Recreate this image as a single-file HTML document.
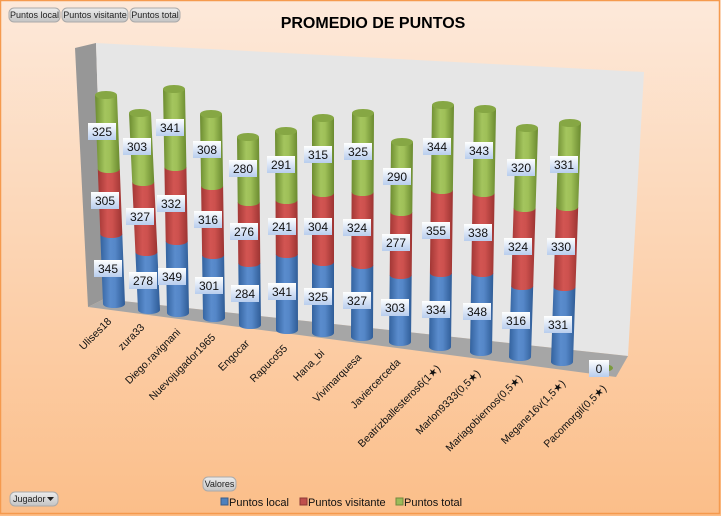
<!DOCTYPE html>
<html><head><meta charset="utf-8"><style>
html,body{margin:0;padding:0;}
body{width:721px;height:516px;overflow:hidden;font-family:"Liberation Sans",sans-serif;}
</style></head><body>
<svg width="721" height="516" viewBox="0 0 721 516" xmlns="http://www.w3.org/2000/svg" font-family="Liberation Sans, sans-serif">
<defs>
<linearGradient id="bg" x1="0" y1="0" x2="0" y2="1"><stop offset="0" stop-color="#fde9da"/><stop offset="1" stop-color="#fbbe89"/></linearGradient>
<linearGradient id="gG" x1="0" y1="0" x2="1" y2="0"><stop offset="0" stop-color="#6c8c30"/><stop offset="0.4" stop-color="#a4c55e"/><stop offset="0.6" stop-color="#9fc058"/><stop offset="1" stop-color="#6a8a2f"/></linearGradient>
<linearGradient id="gR" x1="0" y1="0" x2="1" y2="0"><stop offset="0" stop-color="#a23735"/><stop offset="0.4" stop-color="#d25552"/><stop offset="0.6" stop-color="#cd514e"/><stop offset="1" stop-color="#9c3432"/></linearGradient>
<linearGradient id="gB" x1="0" y1="0" x2="1" y2="0"><stop offset="0" stop-color="#33629e"/><stop offset="0.4" stop-color="#5a8ccd"/><stop offset="0.6" stop-color="#5587c8"/><stop offset="1" stop-color="#2f5c96"/></linearGradient>
<linearGradient id="lb" x1="0" y1="0" x2="0" y2="1"><stop offset="0" stop-color="#ffffff"/><stop offset="1" stop-color="#b8cdee"/></linearGradient>
<linearGradient id="btn" x1="0" y1="0" x2="0" y2="1"><stop offset="0" stop-color="#ececec"/><stop offset="1" stop-color="#c4c4c4"/></linearGradient>
</defs>
<rect x="0" y="0" width="721" height="516" fill="url(#bg)"/>
<rect x="0.5" y="0.5" width="719" height="513" fill="none" stroke="#f59a4e" stroke-width="1.5"/>
<text x="373" y="28" font-size="16" font-weight="bold" text-anchor="middle" fill="#000">PROMEDIO DE PUNTOS</text>
<g font-size="9" fill="#222">
<rect x="9" y="8" width="51" height="14" rx="5" fill="url(#btn)" stroke="#aaa"/><text x="34.5" y="18" text-anchor="middle">Puntos local</text>
<rect x="62" y="8" width="66" height="14" rx="5" fill="url(#btn)" stroke="#aaa"/><text x="95" y="18" text-anchor="middle">Puntos visitante</text>
<rect x="130" y="8" width="50" height="14" rx="5" fill="url(#btn)" stroke="#aaa"/><text x="155" y="18" text-anchor="middle">Puntos total</text>
<rect x="203" y="477" width="33" height="14" rx="5" fill="url(#btn)" stroke="#aaa"/><text x="219.5" y="487" text-anchor="middle">Valores</text>
<rect x="10" y="492" width="48" height="14" rx="5" fill="url(#btn)" stroke="#aaa"/><text x="13" y="502">Jugador</text>
<path d="M47 497 L54 497 L50.5 501Z" fill="#222"/>
</g>
<polygon points="75,48 96,43 104,299 88,307" fill="#979797"/>
<polygon points="96,43 644,72 628,356 104,299" fill="#e6e6e6"/>
<polygon points="104,299 628,356 616,377 88,307" fill="#a6a6a6"/>
<g stroke="none">
<path d="M100.3 234 L103 304 A11 4 0 0 0 125 304 L122.3 234Z" fill="url(#gB)"/><path d="M97.8 169 L100.3 234 A11 4 0 0 0 122.3 234 L119.8 169Z" fill="url(#gR)"/><path d="M95 95 L97.8 169 A11 4 0 0 0 119.8 169 L117 95Z" fill="url(#gG)"/><ellipse cx="106" cy="95" rx="11" ry="4" fill="#86a744"/>
<path d="M135.4 252 L138 310 A11 4 0 0 0 160 310 L157.4 252Z" fill="url(#gB)"/><path d="M132.2 182 L135.4 252 A11 4 0 0 0 157.4 252 L154.2 182Z" fill="url(#gR)"/><path d="M129 113 L132.2 182 A11 4 0 0 0 154.2 182 L151 113Z" fill="url(#gG)"/><ellipse cx="140" cy="113" rx="11" ry="4" fill="#86a744"/>
<path d="M165.7 241 L167 313 A11 4 0 0 0 189 313 L187.7 241Z" fill="url(#gB)"/><path d="M164.4 167 L165.7 241 A11 4 0 0 0 187.7 241 L186.4 167Z" fill="url(#gR)"/><path d="M163 89 L164.4 167 A11 4 0 0 0 186.4 167 L185 89Z" fill="url(#gG)"/><ellipse cx="174" cy="89" rx="11" ry="4" fill="#86a744"/>
<path d="M202.1 255 L203 318 A11 4 0 0 0 225 318 L224.1 255Z" fill="url(#gB)"/><path d="M201.1 186 L202.1 255 A11 4 0 0 0 224.1 255 L223.1 186Z" fill="url(#gR)"/><path d="M200 114 L201.1 186 A11 4 0 0 0 223.1 186 L222 114Z" fill="url(#gG)"/><ellipse cx="211" cy="114" rx="11" ry="4" fill="#86a744"/>
<path d="M238.3 263 L239 325 A11 4 0 0 0 261 325 L260.3 263Z" fill="url(#gB)"/><path d="M237.7 202 L238.3 263 A11 4 0 0 0 260.3 263 L259.7 202Z" fill="url(#gR)"/><path d="M237 137 L237.7 202 A11 4 0 0 0 259.7 202 L259 137Z" fill="url(#gG)"/><ellipse cx="248" cy="137" rx="11" ry="4" fill="#86a744"/>
<path d="M275.8 254 L276 330 A11 4 0 0 0 298 330 L297.8 254Z" fill="url(#gB)"/><path d="M275.5 200 L275.8 254 A11 4 0 0 0 297.8 254 L297.5 200Z" fill="url(#gR)"/><path d="M275 131 L275.5 200 A11 4 0 0 0 297.5 200 L297 131Z" fill="url(#gG)"/><ellipse cx="286" cy="131" rx="11" ry="4" fill="#86a744"/>
<path d="M312 262 L312 333 A11 4 0 0 0 334 333 L334 262Z" fill="url(#gB)"/><path d="M312 193 L312 262 A11 4 0 0 0 334 262 L334 193Z" fill="url(#gR)"/><path d="M312 118 L312 193 A11 4 0 0 0 334 193 L334 118Z" fill="url(#gG)"/><ellipse cx="323" cy="118" rx="11" ry="4" fill="#86a744"/>
<path d="M351.3 265 L351 337 A11 4 0 0 0 373 337 L373.3 265Z" fill="url(#gB)"/><path d="M351.6 192 L351.3 265 A11 4 0 0 0 373.3 265 L373.6 192Z" fill="url(#gR)"/><path d="M352 113 L351.6 192 A11 4 0 0 0 373.6 192 L374 113Z" fill="url(#gG)"/><ellipse cx="363" cy="113" rx="11" ry="4" fill="#86a744"/>
<path d="M389.7 275 L389 342 A11 4 0 0 0 411 342 L411.7 275Z" fill="url(#gB)"/><path d="M390.3 212 L389.7 275 A11 4 0 0 0 411.7 275 L412.3 212Z" fill="url(#gR)"/><path d="M391 142 L390.3 212 A11 4 0 0 0 412.3 212 L413 142Z" fill="url(#gG)"/><ellipse cx="402" cy="142" rx="11" ry="4" fill="#86a744"/>
<path d="M429.9 273 L429 347 A11 4 0 0 0 451 347 L451.9 273Z" fill="url(#gB)"/><path d="M430.9 190 L429.9 273 A11 4 0 0 0 451.9 273 L452.9 190Z" fill="url(#gR)"/><path d="M432 105 L430.9 190 A11 4 0 0 0 452.9 190 L454 105Z" fill="url(#gG)"/><ellipse cx="443" cy="105" rx="11" ry="4" fill="#86a744"/>
<path d="M471.3 273 L470 352 A11 4 0 0 0 492 352 L493.3 273Z" fill="url(#gB)"/><path d="M472.6 193 L471.3 273 A11 4 0 0 0 493.3 273 L494.6 193Z" fill="url(#gR)"/><path d="M474 109 L472.6 193 A11 4 0 0 0 494.6 193 L496 109Z" fill="url(#gG)"/><ellipse cx="485" cy="109" rx="11" ry="4" fill="#86a744"/>
<path d="M511.2 286 L509 357 A11 4 0 0 0 531 357 L533.2 286Z" fill="url(#gB)"/><path d="M513.6 208 L511.2 286 A11 4 0 0 0 533.2 286 L535.6 208Z" fill="url(#gR)"/><path d="M516 128 L513.6 208 A11 4 0 0 0 535.6 208 L538 128Z" fill="url(#gG)"/><ellipse cx="527" cy="128" rx="11" ry="4" fill="#86a744"/>
<path d="M553.5 287 L551 362 A11 4 0 0 0 573 362 L575.5 287Z" fill="url(#gB)"/><path d="M556.2 207 L553.5 287 A11 4 0 0 0 575.5 287 L578.2 207Z" fill="url(#gR)"/><path d="M559 123 L556.2 207 A11 4 0 0 0 578.2 207 L581 123Z" fill="url(#gG)"/><ellipse cx="570" cy="123" rx="11" ry="4" fill="#86a744"/>
<ellipse cx="602" cy="368" rx="11" ry="4" fill="#7a9a3c"/>
</g>
<g font-size="12" fill="#111" text-anchor="middle">
<g><rect x="88" y="123" width="28" height="17" fill="url(#lb)"/><text x="102" y="136">325</text><rect x="91" y="192" width="28" height="17" fill="url(#lb)"/><text x="105" y="205">305</text><rect x="94" y="260" width="28" height="17" fill="url(#lb)"/><text x="108" y="273">345</text></g>
<g><rect x="123" y="138" width="28" height="17" fill="url(#lb)"/><text x="137" y="151">303</text><rect x="126" y="208" width="28" height="17" fill="url(#lb)"/><text x="140" y="221">327</text><rect x="129" y="272" width="28" height="17" fill="url(#lb)"/><text x="143" y="285">278</text></g>
<g><rect x="156" y="119" width="28" height="17" fill="url(#lb)"/><text x="170" y="132">341</text><rect x="157" y="195" width="28" height="17" fill="url(#lb)"/><text x="171" y="208">332</text><rect x="158" y="268" width="28" height="17" fill="url(#lb)"/><text x="172" y="281">349</text></g>
<g><rect x="193" y="141" width="28" height="17" fill="url(#lb)"/><text x="207" y="154">308</text><rect x="194" y="211" width="28" height="17" fill="url(#lb)"/><text x="208" y="224">316</text><rect x="195" y="277" width="28" height="17" fill="url(#lb)"/><text x="209" y="290">301</text></g>
<g><rect x="229" y="160" width="28" height="17" fill="url(#lb)"/><text x="243" y="173">280</text><rect x="230" y="223" width="28" height="17" fill="url(#lb)"/><text x="244" y="236">276</text><rect x="231" y="285" width="28" height="17" fill="url(#lb)"/><text x="245" y="298">284</text></g>
<g><rect x="267" y="156" width="28" height="17" fill="url(#lb)"/><text x="281" y="169">291</text><rect x="268" y="218" width="28" height="17" fill="url(#lb)"/><text x="282" y="231">241</text><rect x="268" y="283" width="28" height="17" fill="url(#lb)"/><text x="282" y="296">341</text></g>
<g><rect x="304" y="146" width="28" height="17" fill="url(#lb)"/><text x="318" y="159">315</text><rect x="304" y="218" width="28" height="17" fill="url(#lb)"/><text x="318" y="231">304</text><rect x="304" y="288" width="28" height="17" fill="url(#lb)"/><text x="318" y="301">325</text></g>
<g><rect x="344" y="143" width="28" height="17" fill="url(#lb)"/><text x="358" y="156">325</text><rect x="343" y="219" width="28" height="17" fill="url(#lb)"/><text x="357" y="232">324</text><rect x="343" y="292" width="28" height="17" fill="url(#lb)"/><text x="357" y="305">327</text></g>
<g><rect x="383" y="168" width="28" height="17" fill="url(#lb)"/><text x="397" y="181">290</text><rect x="382" y="234" width="28" height="17" fill="url(#lb)"/><text x="396" y="247">277</text><rect x="381" y="299" width="28" height="17" fill="url(#lb)"/><text x="395" y="312">303</text></g>
<g><rect x="423" y="138" width="28" height="17" fill="url(#lb)"/><text x="437" y="151">344</text><rect x="422" y="222" width="28" height="17" fill="url(#lb)"/><text x="436" y="235">355</text><rect x="422" y="301" width="28" height="17" fill="url(#lb)"/><text x="436" y="314">334</text></g>
<g><rect x="465" y="142" width="28" height="17" fill="url(#lb)"/><text x="479" y="155">343</text><rect x="464" y="224" width="28" height="17" fill="url(#lb)"/><text x="478" y="237">338</text><rect x="463" y="303" width="28" height="17" fill="url(#lb)"/><text x="477" y="316">348</text></g>
<g><rect x="507" y="159" width="28" height="17" fill="url(#lb)"/><text x="521" y="172">320</text><rect x="504" y="238" width="28" height="17" fill="url(#lb)"/><text x="518" y="251">324</text><rect x="502" y="312" width="28" height="17" fill="url(#lb)"/><text x="516" y="325">316</text></g>
<g><rect x="550" y="156" width="28" height="17" fill="url(#lb)"/><text x="564" y="169">331</text><rect x="547" y="238" width="28" height="17" fill="url(#lb)"/><text x="561" y="251">330</text><rect x="544" y="316" width="28" height="17" fill="url(#lb)"/><text x="558" y="329">331</text></g>
<g><rect x="589" y="360" width="20" height="17" fill="url(#lb)"/><text x="599" y="373">0</text></g>
</g>
<g font-size="10.5" fill="#111" text-anchor="end">
<text transform="translate(112,322) rotate(-45)">Ulises18</text>
<text transform="translate(145,328) rotate(-45)">zura33</text>
<text transform="translate(181,333) rotate(-45)">Diego.ravignani</text>
<text transform="translate(216,338) rotate(-45)">Nuevojugador1965</text>
<text transform="translate(250,344) rotate(-45)">Engocar</text>
<text transform="translate(288,349) rotate(-45)">Rapuco55</text>
<text transform="translate(325,354) rotate(-45)">Hana_bi</text>
<text transform="translate(362,358) rotate(-45)">Vivimarquesa</text>
<text transform="translate(401,363) rotate(-45)">Javiercerceda</text>
<text transform="translate(441,369) rotate(-45)">Beatrizballesteros6(1★)</text>
<text transform="translate(481,374) rotate(-45)">Marlon9333(0,5★)</text>
<text transform="translate(523,379) rotate(-45)">Mariagobiernos(0,5★)</text>
<text transform="translate(566,384) rotate(-45)">Megane16v(1,5★)</text>
<text transform="translate(607,389) rotate(-45)">Pacomorgil(0,5★)</text>
</g>
<g font-size="11" fill="#111">
<rect x="221" y="498" width="7" height="7" fill="#4f81bd" stroke="#385d8a"/><text x="229" y="506">Puntos local</text>
<rect x="300" y="498" width="7" height="7" fill="#c0504d" stroke="#8c3836"/><text x="308" y="506">Puntos visitante</text>
<rect x="396" y="498" width="7" height="7" fill="#9bbb59" stroke="#71893f"/><text x="404" y="506">Puntos total</text>
</g>
</svg>
</body></html>
